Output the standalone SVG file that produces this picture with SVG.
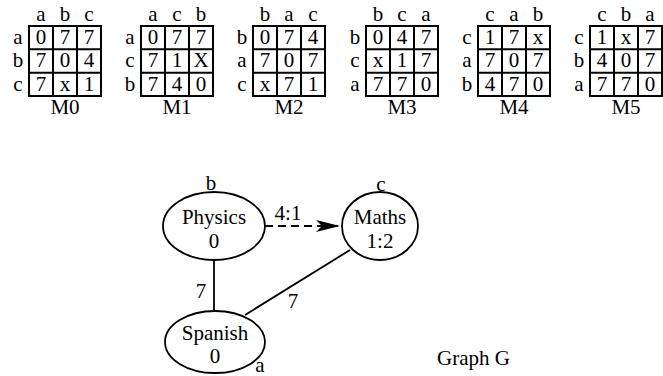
<svg xmlns="http://www.w3.org/2000/svg" width="663" height="376" viewBox="0 0 663 376" font-family="'Liberation Serif', 'Times New Roman', Times, serif">
<defs>
<style>
text{font-family:"Liberation Serif","Times New Roman",Times,serif;font-size:21px;fill:#000;text-anchor:middle}
.grid{fill:none;stroke:#000;stroke-width:2}
.node{fill:#fff;stroke:#000;stroke-width:1.8}
.edge{fill:none;stroke:#000;stroke-width:1.8}
.dash{stroke-dasharray:8 5}
</style>
<g id="mgrid">
<rect class="grid" x="0" y="0" width="72" height="70"/>
<line class="grid" x1="24" y1="0" x2="24" y2="70"/>
<line class="grid" x1="48" y1="0" x2="48" y2="70"/>
<line class="grid" x1="0" y1="23.3" x2="72" y2="23.3"/>
<line class="grid" x1="0" y1="46.7" x2="72" y2="46.7"/>
</g>
<marker id="arr" viewBox="0 0 24 14" refX="24" refY="7" markerWidth="24" markerHeight="14" markerUnits="userSpaceOnUse" orient="auto">
<path d="M0,1 L24,7 L0,13 L6,7 Z" fill="#000"/>
</marker>
</defs>
<rect width="663" height="376" fill="#fff"/>

<g id="M0" transform="translate(29,26)">
<use href="#mgrid"/>
<text x="12" y="-5">a</text><text x="36" y="-5">b</text><text x="60" y="-5">c</text>
<text x="-11" y="18">a</text><text x="-11" y="41">b</text><text x="-11" y="65">c</text>
<text x="12" y="18">0</text><text x="36" y="18">7</text><text x="60" y="18">7</text>
<text x="12" y="41">7</text><text x="36" y="41">0</text><text x="60" y="41">4</text>
<text x="12" y="65">7</text><text x="36" y="65">x</text><text x="60" y="65">1</text>
<text x="36" y="88">M0</text>
</g>

<g id="M1" transform="translate(141,26)">
<use href="#mgrid"/>
<text x="12" y="-5">a</text><text x="36" y="-5">c</text><text x="60" y="-5">b</text>
<text x="-11" y="18">a</text><text x="-11" y="41">c</text><text x="-11" y="65">b</text>
<text x="12" y="18">0</text><text x="36" y="18">7</text><text x="60" y="18">7</text>
<text x="12" y="41">7</text><text x="36" y="41">1</text><text x="60" y="41">X</text>
<text x="12" y="65">7</text><text x="36" y="65">4</text><text x="60" y="65">0</text>
<text x="36" y="88">M1</text>
</g>

<g id="M2" transform="translate(253,26)">
<use href="#mgrid"/>
<text x="12" y="-5">b</text><text x="36" y="-5">a</text><text x="60" y="-5">c</text>
<text x="-11" y="18">b</text><text x="-11" y="41">a</text><text x="-11" y="65">c</text>
<text x="12" y="18">0</text><text x="36" y="18">7</text><text x="60" y="18">4</text>
<text x="12" y="41">7</text><text x="36" y="41">0</text><text x="60" y="41">7</text>
<text x="12" y="65">x</text><text x="36" y="65">7</text><text x="60" y="65">1</text>
<text x="36" y="88">M2</text>
</g>

<g id="M3" transform="translate(366,26)">
<use href="#mgrid"/>
<text x="12" y="-5">b</text><text x="36" y="-5">c</text><text x="60" y="-5">a</text>
<text x="-11" y="18">b</text><text x="-11" y="41">c</text><text x="-11" y="65">a</text>
<text x="12" y="18">0</text><text x="36" y="18">4</text><text x="60" y="18">7</text>
<text x="12" y="41">x</text><text x="36" y="41">1</text><text x="60" y="41">7</text>
<text x="12" y="65">7</text><text x="36" y="65">7</text><text x="60" y="65">0</text>
<text x="36" y="88">M3</text>
</g>

<g id="M4" transform="translate(478,26)">
<use href="#mgrid"/>
<text x="12" y="-5">c</text><text x="36" y="-5">a</text><text x="60" y="-5">b</text>
<text x="-11" y="18">c</text><text x="-11" y="41">a</text><text x="-11" y="65">b</text>
<text x="12" y="18">1</text><text x="36" y="18">7</text><text x="60" y="18">x</text>
<text x="12" y="41">7</text><text x="36" y="41">0</text><text x="60" y="41">7</text>
<text x="12" y="65">4</text><text x="36" y="65">7</text><text x="60" y="65">0</text>
<text x="36" y="88">M4</text>
</g>

<g id="M5" transform="translate(590,26)">
<use href="#mgrid"/>
<text x="12" y="-5">c</text><text x="36" y="-5">b</text><text x="60" y="-5">a</text>
<text x="-11" y="18">c</text><text x="-11" y="41">b</text><text x="-11" y="65">a</text>
<text x="12" y="18">1</text><text x="36" y="18">x</text><text x="60" y="18">7</text>
<text x="12" y="41">4</text><text x="36" y="41">0</text><text x="60" y="41">7</text>
<text x="12" y="65">7</text><text x="36" y="65">7</text><text x="60" y="65">0</text>
<text x="36" y="88">M5</text>
</g>

<g id="connectors">
<line class="edge" x1="214" y1="260" x2="214" y2="311"/>
<line class="edge" x1="350" y1="250" x2="245" y2="315"/>
<line class="edge dash" x1="265" y1="226" x2="340" y2="226" marker-end="url(#arr)"/>
<text x="288" y="220">4:1</text>
<text x="201" y="298">7</text>
<text x="293" y="308">7</text>
</g>

<g id="physics">
<ellipse class="node" cx="214" cy="226" rx="51" ry="34"/>
<text x="214" y="224">Physics</text>
<text x="214" y="248">0</text>
<text x="211" y="190">b</text>
</g>

<g id="maths">
<ellipse class="node" cx="380" cy="226" rx="38" ry="34"/>
<text x="380" y="224">Maths</text>
<text x="380" y="248">1:2</text>
<text x="381" y="191">c</text>
</g>

<g id="spanish">
<ellipse class="node" cx="215" cy="342" rx="50" ry="31"/>
<text x="215" y="340">Spanish</text>
<text x="215" y="363">0</text>
<text x="260" y="372">a</text>
</g>

<text x="437" y="365" style="text-anchor:start">Graph G</text>
</svg>
